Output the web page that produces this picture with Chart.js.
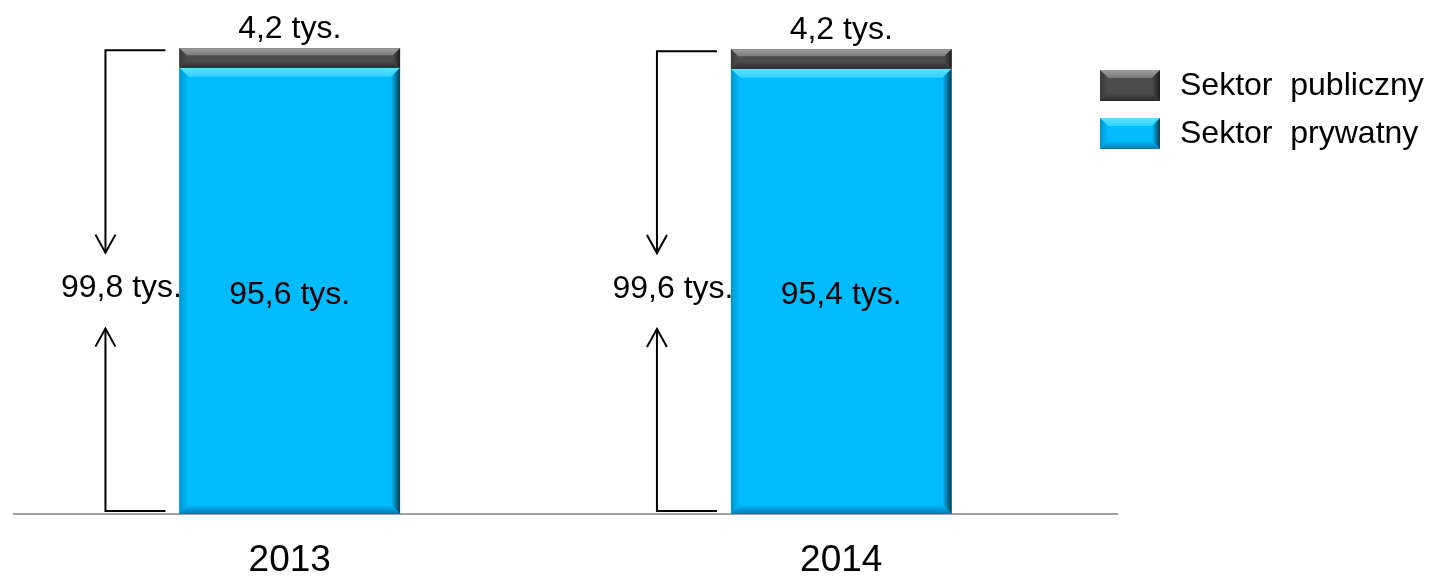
<!DOCTYPE html>
<html>
<head>
<meta charset="utf-8">
<script src="https://cdn.jsdelivr.net/npm/chart.js@4/dist/chart.umd.min.js"></script>
<style>
html,body{margin:0;padding:0;background:#fff;}
#c{display:block;}
</style>
</head>
<body>
<canvas id="c" width="1439" height="577"></canvas>
<script>
const categories = ['2013', '2014'];
const privateValues = [95.6, 95.4];
const publicValues = [4.2, 4.2];
const seriesNames = ['Sektor  prywatny', 'Sektor  publiczny'];
const unit = ' tys.';

const FONT = '"Liberation Sans", Arial, sans-serif';
const fmt = v => v.toFixed(1).replace('.', ',') + unit;

const palettes = {
  cyan: {base: '#00BCFD', top: '#2ED2FF', topEdge: '#5EE0FF', left: '#0094CC', right: '#0A3C55', bottom: '#0078A8'},
  gray: {base: '#4C4C4C', top: '#7A7A7A', topEdge: '#A0A0A0', left: '#3A3A3A', right: '#1E1E1E', bottom: '#2C2C2C'}
};

function bevelRect(ctx, l, t, r, b, bv, p) {
  const w = r - l, h = b - t;
  const bx = Math.min(bv, w / 2), by = Math.min(bv, h / 2);
  ctx.save();
  ctx.fillStyle = p.base;
  ctx.fillRect(l, t, w, h);
  let g = ctx.createLinearGradient(0, t, 0, t + by);
  g.addColorStop(0, p.topEdge); g.addColorStop(1, p.top);
  ctx.fillStyle = g;
  ctx.beginPath(); ctx.moveTo(l, t); ctx.lineTo(r, t); ctx.lineTo(r - bx, t + by); ctx.lineTo(l + bx, t + by); ctx.closePath(); ctx.fill();
  g = ctx.createLinearGradient(l, 0, l + bx, 0);
  g.addColorStop(0, p.left); g.addColorStop(1, p.base);
  ctx.fillStyle = g;
  ctx.beginPath(); ctx.moveTo(l, t); ctx.lineTo(l + bx, t + by); ctx.lineTo(l + bx, b - by); ctx.lineTo(l, b); ctx.closePath(); ctx.fill();
  g = ctx.createLinearGradient(r - bx, 0, r, 0);
  g.addColorStop(0, p.base); g.addColorStop(1, p.right);
  ctx.fillStyle = g;
  ctx.beginPath(); ctx.moveTo(r, t); ctx.lineTo(r - bx, t + by); ctx.lineTo(r - bx, b - by); ctx.lineTo(r, b); ctx.closePath(); ctx.fill();
  g = ctx.createLinearGradient(0, b - by, 0, b);
  g.addColorStop(0, p.base); g.addColorStop(1, p.bottom);
  ctx.fillStyle = g;
  ctx.beginPath(); ctx.moveTo(l, b); ctx.lineTo(l + bx, b - by); ctx.lineTo(r - bx, b - by); ctx.lineTo(r, b); ctx.closePath(); ctx.fill();
  ctx.restore();
}

function arrowHead(ctx, x, y, dir) {
  ctx.beginPath();
  ctx.moveTo(x - 10, y - dir * 18);
  ctx.lineTo(x, y);
  ctx.lineTo(x + 10, y - dir * 18);
  ctx.stroke();
}

const bevelPlugin = {
  id: 'bevel',
  afterDatasetsDraw(chart) {
    const ctx = chart.ctx;
    const ys = chart.scales.y;
    const keys = ['cyan', 'gray'];
    chart.data.datasets.forEach((ds, di) => {
      const meta = chart.getDatasetMeta(di);
      meta.data.forEach(el => {
        const l = el.x - el.width / 2, r = el.x + el.width / 2;
        const t = Math.min(el.y, el.base), b = Math.max(el.y, el.base);
        bevelRect(ctx, l, t, r, b, di === 0 ? 9 : 7, palettes[keys[di]]);
      });
    });
    ctx.save();
    ctx.fillStyle = '#000';
    ctx.font = '32px ' + FONT;
    ctx.textAlign = 'center';
    const m0 = chart.getDatasetMeta(0), m1 = chart.getDatasetMeta(1);
    categories.forEach((c, i) => {
      const e0 = m0.data[i], e1 = m1.data[i];
      ctx.textBaseline = 'middle';
      ctx.fillText(fmt(privateValues[i]), e0.x, (e0.y + e0.base) / 2 + 4);
      ctx.textBaseline = 'alphabetic';
      ctx.fillText(fmt(publicValues[i]), e1.x, e1.y - 10);
      const total = privateValues[i] + publicValues[i];
      const left = e0.x - e0.width / 2;
      const lx = left - 74;
      const yTop = ys.getPixelForValue(total) + 2;
      const yBot = ys.getPixelForValue(0) - 3;
      const ly = (yTop + yBot) / 2 + 8;
      ctx.strokeStyle = '#000';
      ctx.lineWidth = 2;
      ctx.beginPath();
      ctx.moveTo(left - 14, yTop); ctx.lineTo(lx, yTop); ctx.lineTo(lx, ly - 36);
      ctx.moveTo(lx, ly + 40); ctx.lineTo(lx, yBot); ctx.lineTo(left - 14, yBot);
      ctx.stroke();
      arrowHead(ctx, lx, ly - 36, 1);
      arrowHead(ctx, lx, ly + 40, -1);
      ctx.textBaseline = 'middle';
      ctx.fillText(fmt(total), lx + 16, ly);
    });
    const items = [[seriesNames[1], 'gray'], [seriesNames[0], 'cyan']];
    ctx.textAlign = 'left';
    ctx.textBaseline = 'middle';
    items.forEach((it, k) => {
      const top = 70 + k * 48;
      bevelRect(ctx, 1100, top, 1160, top + 31, 8, palettes[it[1]]);
      ctx.fillStyle = '#000';
      ctx.fillText(it[0], 1180, top + 16);
    });
    ctx.restore();
  }
};

new Chart(document.getElementById('c'), {
  type: 'bar',
  data: {
    labels: categories,
    datasets: [
      {label: seriesNames[0], data: privateValues, backgroundColor: palettes.cyan.base, borderWidth: 0},
      {label: seriesNames[1], data: publicValues, backgroundColor: palettes.gray.base, borderWidth: 0}
    ]
  },
  options: {
    responsive: false,
    animation: false,
    devicePixelRatio: 1,
    layout: {padding: {left: 14, right: 322, top: 24, bottom: -30}},
    plugins: {legend: {display: false}, tooltip: {enabled: false}},
    scales: {
      x: {
        stacked: true,
        grid: {display: false, drawTicks: false},
        border: {display: true, color: '#A0A0A0', width: 2},
        ticks: {color: '#000', font: {family: FONT, size: 37, lineHeight: 1}, padding: 28}
      },
      y: {
        stacked: true,
        display: false,
        min: 0,
        max: 105
      }
    },
    datasets: {bar: {barPercentage: 0.4, categoryPercentage: 1}}
  },
  plugins: [bevelPlugin]
});
</script>
</body>
</html>
